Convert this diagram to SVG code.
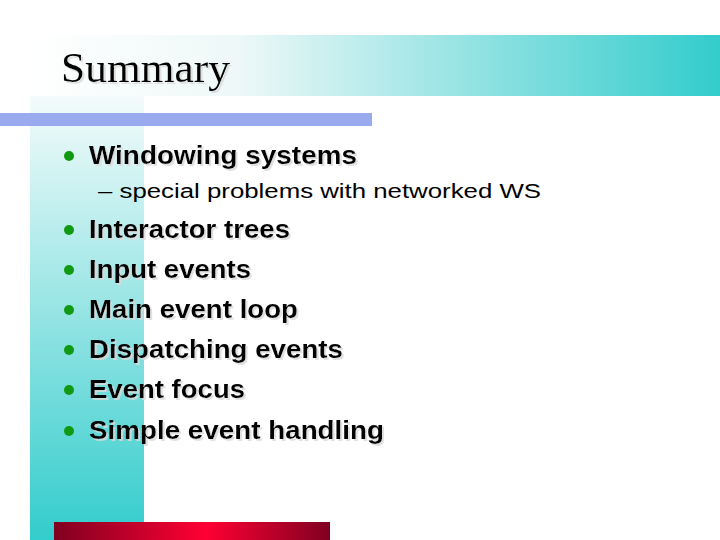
<svg xmlns="http://www.w3.org/2000/svg" width="720" height="540" viewBox="0 0 720 540">
<defs>
<linearGradient id="top" x1="0" y1="0" x2="1" y2="0"><stop offset="0" stop-color="#ffffff"/><stop offset="0.3" stop-color="#eef8f8"/><stop offset="1" stop-color="#33cccc"/></linearGradient>
<linearGradient id="left" x1="0" y1="0" x2="0" y2="1"><stop offset="0" stop-color="#f4fbfb"/><stop offset="1" stop-color="#33cccc"/></linearGradient>
<linearGradient id="red" x1="0" y1="0" x2="1" y2="0"><stop offset="0" stop-color="#800020"/><stop offset="0.55" stop-color="#ff0033"/><stop offset="1" stop-color="#800020"/></linearGradient>
<filter id="shadow" x="-5%" y="-20%" width="115%" height="150%">
<feOffset in="SourceAlpha" dx="2" dy="2" result="o"/>
<feColorMatrix in="o" type="matrix" values="0 0 0 0 0.7  0 0 0 0 0.7  0 0 0 0 0.7  0 0 0 0.8 0" result="c"/>
<feMerge><feMergeNode in="c"/><feMergeNode in="SourceGraphic"/></feMerge>
</filter>
<style>
.b{font-family:"Liberation Sans",Arial,sans-serif;font-weight:bold;font-size:25px;fill:#000;filter:url(#shadow)}
.dot{fill:#119911}
</style>
</defs>
<rect x="30" y="35" width="690" height="61" fill="url(#top)"/>
<rect x="30" y="96" width="114" height="444" fill="url(#left)"/>
<rect x="0" y="113" width="372" height="13" fill="#99aaee"/>
<rect x="54" y="522" width="276" height="18" fill="url(#red)"/>
<g id="title">
<text x="61" y="82" font-family="Liberation Serif,serif" font-size="42" fill="#000" filter="url(#shadow)" textLength="169" lengthAdjust="spacingAndGlyphs">Summary</text>
</g>
<g id="bullets">
<circle class="dot" cx="69" cy="156" r="5"/>
<text class="b" x="89" y="164" textLength="268" lengthAdjust="spacingAndGlyphs">Windowing systems</text>
<text x="98" y="198" font-family="Liberation Sans,Arial,sans-serif" font-size="20" fill="#000" textLength="443" lengthAdjust="spacingAndGlyphs">– special problems with networked WS</text>
<circle class="dot" cx="69" cy="230" r="5"/>
<text class="b" x="89" y="238" textLength="201" lengthAdjust="spacingAndGlyphs">Interactor trees</text>
<circle class="dot" cx="69" cy="270" r="5"/>
<text class="b" x="89" y="278" textLength="162" lengthAdjust="spacingAndGlyphs">Input events</text>
<circle class="dot" cx="69" cy="310" r="5"/>
<text class="b" x="89" y="318" textLength="209" lengthAdjust="spacingAndGlyphs">Main event loop</text>
<circle class="dot" cx="69" cy="350" r="5"/>
<text class="b" x="89" y="358" textLength="254" lengthAdjust="spacingAndGlyphs">Dispatching events</text>
<circle class="dot" cx="69" cy="390" r="5"/>
<text class="b" x="89" y="398" textLength="156" lengthAdjust="spacingAndGlyphs">Event focus</text>
<circle class="dot" cx="69" cy="431" r="5"/>
<text class="b" x="89" y="439" textLength="295" lengthAdjust="spacingAndGlyphs">Simple event handling</text>
</g>
</svg>
